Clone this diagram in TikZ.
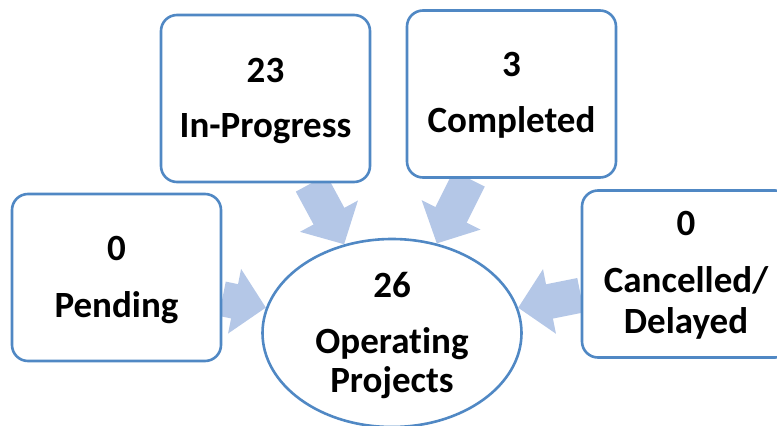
\documentclass[tikz,border=0pt]{standalone}
\usepackage{fontspec}
\setmainfont{Carlito}[Ligatures={NoCommon},RawFeature={-liga;-clig}]
\usetikzlibrary{arrows.meta,shapes.geometric,backgrounds}
\definecolor{boxline}{HTML}{5088C4}
\definecolor{flowc}{HTML}{B4C7E7}
\tikzset{
  statbox/.style={draw=boxline, line width=2.6pt, fill=white, rounded corners=16pt,
    minimum width=209pt, minimum height=167pt, inner sep=0pt},
  hub/.style={draw=boxline, line width=2.6pt, fill=white, ellipse,
    minimum width=259pt, minimum height=188pt, inner sep=0pt},
  txt/.style={anchor=base, font=\fontsize{37}{40}\selectfont\bfseries, inner sep=0pt},
  flow/.style={draw=flowc, line width=35pt, -{Triangle[width=64pt,length=32pt]}}
}
\begin{document}
\begin{tikzpicture}[x=1pt,y=-1pt]
\useasboundingbox (0,0) rectangle (777,426);
\clip (0,0) rectangle (777,426);
\node[statbox] (pend) at (116.5,277.5) {};
\node[statbox] (prog) at (265.5,98.5) {};
\node[statbox] (comp) at (511.5,94) {};
\node[statbox] (canc) at (686.5,274) {};
\node[hub] (ops) at (392,333) {};
\begin{scope}[on background layer]
  \draw[flow] (pend) -- (ops);
  \draw[flow] (prog) -- (ops);
  \draw[flow] (comp) -- (ops);
  \draw[flow] (canc) -- (ops);
\end{scope}
\node[txt] (pendn) at (116.5,260) {0};
\node[txt] (pendl) at (116.5,317) {Pending};
\node[txt] (progn) at (265.5,82) {23};
\node[txt] (progl) at (265.5,137) {In-Progress};
\node[txt] (compn) at (511.5,76) {3};
\node[txt] (compl) at (511.5,132) {Completed};
\node[txt] (cancn) at (686,235) {0};
\node[txt] (cancl) at (686,292) {Cancelled/};
\node[txt] (cancm) at (686,333) {Delayed};
\node[txt] (opsn) at (392,297) {26};
\node[txt] (opsl) at (392,353) {Operat\kern0pt ing};
\node[txt] (opsm) at (392,392) {Projects};
\end{tikzpicture}
\end{document}
